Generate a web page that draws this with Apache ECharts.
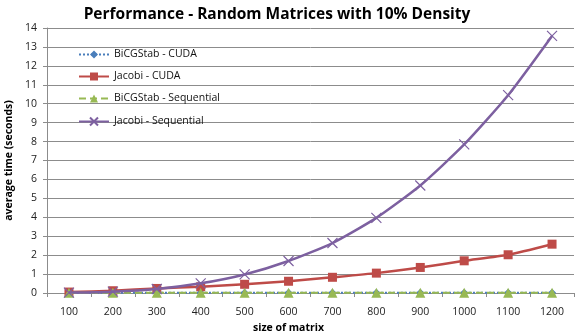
<!DOCTYPE html>
<html>
<head>
<meta charset="utf-8">
<script src="https://cdn.jsdelivr.net/npm/echarts@6/dist/echarts.min.js"></script>
<style>
  html, body { margin: 0; padding: 0; background: #fff; }
  #chart { width: 581px; height: 336px; }
</style>
</head>
<body>
<div id="chart"></div>
<script>
// matrix sizes on the x axis
const sizes = ['100', '200', '300', '400', '500', '600', '700', '800', '900', '1000', '1100', '1200'];
// average time in seconds
const bicgCuda = [0.01, 0.01, 0.01, 0.01, 0.01, 0.01, 0.01, 0.01, 0.01, 0.01, 0.01, 0.01];
const jacobiCuda = [0.05, 0.12, 0.24, 0.33, 0.46, 0.62, 0.83, 1.05, 1.35, 1.7, 2.02, 2.58];
const bicgSeq = [0.01, 0.01, 0.01, 0.01, 0.01, 0.01, 0.01, 0.01, 0.01, 0.01, 0.01, 0.01];
const jacobiSeq = [0.02, 0.07, 0.21, 0.51, 0.98, 1.69, 2.64, 3.97, 5.68, 7.85, 10.45, 13.58];

const font = '"Open Sans", "DejaVu Sans", sans-serif';
const gridColor = '#8c8c8c';

const chart = echarts.init(document.getElementById('chart'));

const option = {
  backgroundColor: '#fff',
  animation: false,
  textStyle: { fontFamily: font },
  title: {
    text: 'Performance - Random Matrices with 10% Density',
    left: 272,
    textAlign: 'center',
    top: 2,
    textStyle: { fontSize: 15.5, fontWeight: 'bold', color: '#000', fontFamily: font }
  },
  legend: {
    orient: 'vertical',
    left: 73,
    top: 44,
    itemWidth: 30,
    itemHeight: 10,
    itemGap: 11,
    textStyle: { fontSize: 10.5, color: '#111', fontFamily: font },
    data: ['BiCGStab - CUDA', 'Jacobi - CUDA', 'BiCGStab - Sequential', 'Jacobi - Sequential']
  },
  grid: { left: 47, right: 7, top: 28, bottom: 43, outerBoundsMode: 'none' },
  xAxis: {
    type: 'category',
    data: sizes,
    boundaryGap: true,
    name: 'size of matrix',
    nameLocation: 'middle',
    nameGap: 28,
    nameTextStyle: { fontSize: 10.5, fontWeight: 'bold', color: '#000', padding: [0, 44, 0, 0] },
    axisLine: { lineStyle: { color: gridColor, width: 1 } },
    axisTick: { show: true, length: 4, lineStyle: { color: gridColor } },
    axisLabel: { fontSize: 10.5, color: '#222', margin: 14 }
  },
  yAxis: {
    type: 'value',
    min: 0,
    max: 14,
    interval: 1,
    name: 'average time (seconds)',
    nameLocation: 'middle',
    nameGap: 26,
    nameTextStyle: { fontSize: 10.5, fontWeight: 'bold', color: '#000' },
    axisLine: { show: true, lineStyle: { color: gridColor, width: 1 } },
    axisTick: { show: true, length: 4, lineStyle: { color: gridColor } },
    axisLabel: { fontSize: 10.5, color: '#222', margin: 10 },
    splitLine: { lineStyle: { color: gridColor, width: 1 } }
  },
  series: [
    {
      name: 'BiCGStab - CUDA',
      type: 'line',
      data: bicgCuda,
      symbol: 'diamond',
      symbolSize: 8,
      lineStyle: { color: '#4a7ebb', width: 2, type: 'dotted' },
      itemStyle: { color: '#4a7ebb' },
      z: 2
    },
    {
      name: 'Jacobi - CUDA',
      type: 'line',
      data: jacobiCuda,
      smooth: 0.2,
      symbol: 'rect',
      symbolSize: 9,
      lineStyle: { color: '#be4b48', width: 2.5 },
      itemStyle: { color: '#be4b48' },
      z: 3
    },
    {
      name: 'BiCGStab - Sequential',
      type: 'line',
      data: bicgSeq,
      symbol: 'triangle',
      symbolSize: 10,
      lineStyle: { color: '#98b954', width: 2, type: [7, 4] },
      itemStyle: { color: '#98b954' },
      z: 4
    },
    {
      name: 'Jacobi - Sequential',
      type: 'line',
      data: jacobiSeq,
      smooth: 0.2,
      symbol: 'path://M0,0L10,10M10,0L0,10',
      symbolSize: 10,
      lineStyle: { color: '#7d60a0', width: 2.5 },
      itemStyle: { color: 'none', borderColor: '#7d60a0', borderWidth: 1.2 },
      z: 5
    }
  ]
};

chart.setOption(option);
</script>
</body>
</html>
